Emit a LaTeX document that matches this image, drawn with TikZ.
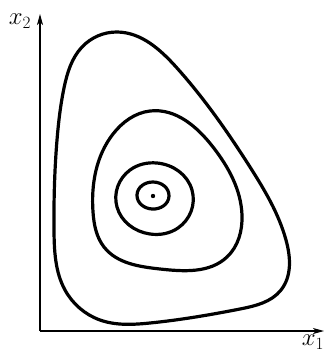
\documentclass[tikz,border=0pt]{standalone}
\usepackage{tikz}
\usetikzlibrary{arrows.meta,hobby}
\tikzset{
  paxis/.style={line width=1.2bp, -{Stealth[length=11bp,width=6bp,inset=3bp]}},
  orbit/.style={line width=3.2bp, line join=round, use Hobby shortcut, closed=true},
  alabel/.style={font=\fontsize{24}{28}\selectfont, inner sep=0pt},
}

\begin{document}
\begin{tikzpicture}[x=1bp, y=-1bp]
  \useasboundingbox (0,0) rectangle (333,353);
  % Axes
  \coordinate (O) at (40,331);
  \coordinate (xend) at (324,331);
  \coordinate (yend) at (40,14);
  \draw[paxis] (O) -- (xend);
  \draw[paxis] (O) -- (yend);
  \node[alabel] (xlab) at (313,342) {$x_1$};
  \node[alabel] (ylab) at (20,21) {$x_2$};
  % Closed orbits
  \draw[orbit] (117,32) .. (177,68) .. (250,167) .. (286,240) .. (281,290)
    .. (240,309) .. (150,323) .. (100,320) .. (65,290) .. (54,230)
    .. (57,140) .. (64,88) .. (82,47);
  \draw[orbit] (150,111) .. (213,147) .. (242,215) .. (227,257)
    .. (160,269) .. (104,247) .. (93,212) .. (113,134);
  \draw[orbit] (157,163) .. (192,190) .. (178,228) .. (150,234)
    .. (117,207) .. (130,170);
  \draw[orbit] (153,182) .. (169,196) .. (152,209) .. (137,195);
  % Equilibrium point
  \fill (153,196) circle (2.2bp);
\end{tikzpicture}
\end{document}
